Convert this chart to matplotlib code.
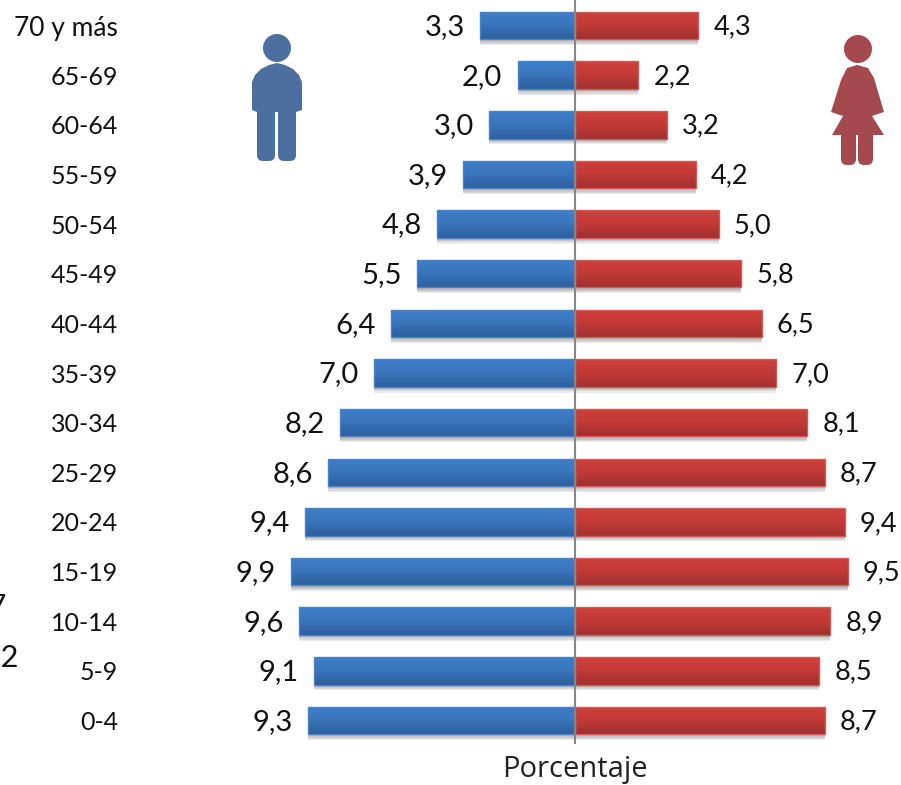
import numpy as np
import matplotlib
matplotlib.use("Agg")
import matplotlib.pyplot as plt
from matplotlib.patches import Circle, Polygon, FancyBboxPatch
from matplotlib.transforms import Affine2D
from matplotlib.colors import LinearSegmentedColormap

ages = ["0-4", "5-9", "10-14", "15-19", "20-24", "25-29", "30-34", "35-39",
        "40-44", "45-49", "50-54", "55-59", "60-64", "65-69", "70 y más"]
men = [9.3, 9.1, 9.6, 9.9, 9.4, 8.6, 8.2, 7.0, 6.4, 5.5, 4.8, 3.9, 3.0, 2.0, 3.3]
women = [8.7, 8.5, 8.9, 9.5, 9.4, 8.7, 8.1, 7.0, 6.5, 5.8, 5.0, 4.2, 3.2, 2.2, 4.3]
stray_labels = ["9,7", "9,2"]
axis_title = "Porcentaje"

W, H = 901, 785
plt.rcParams["font.family"] = ["Lato", "DejaVu Sans"]
fig = plt.figure(figsize=(W / 100, H / 100), dpi=100)
L, R, T, B = 125, 901, 0, 745
ax = fig.add_axes([L / W, 1 - B / H, (R - L) / W, (B - T) / H])
PX = 28.7
ROW = 49.64
xlim = ((L - 575) / PX, (R - 575) / PX)
ylim = ((720.5 - B) / ROW, (720.5 - T) / ROW)
y = np.arange(len(ages))
BH = 27.5 / ROW

blue = LinearSegmentedColormap.from_list("b", ["#3f7fcc", "#3a74ba", "#2f5f9e"])
red = LinearSegmentedColormap.from_list("r", ["#d0403c", "#c23a37", "#a03030"])
grad = np.linspace(0, 1, 64).reshape(-1, 1)


def draw(vals, sign, cmap, edge):
    widths = sign * np.array(vals)
    for k in range(5):
        ax.barh(y - (1 + k * 1.2) / ROW, widths, height=BH, color="#444444",
                alpha=0.10, lw=0, zorder=1)
    bars = ax.barh(y, widths, height=BH, color="none", edgecolor=edge, lw=1.0, zorder=3)
    for rect in bars:
        x0, yy, w, h = rect.get_x(), rect.get_y(), rect.get_width(), rect.get_height()
        im = ax.imshow(grad, cmap=cmap, aspect="auto", zorder=2,
                       extent=(x0, x0 + w, yy, yy + h), origin="upper")
        im.set_clip_path(rect)


draw(men, -1, blue, "#4a82c8")
draw(women, 1, red, "#d25a56")
ax.set_xlim(*xlim)
ax.set_ylim(*ylim)
ax.axvline(0, ymin=(B - 743) / (B - T), color="#868686", lw=1.5, zorder=5)

for i, (m, f) in enumerate(zip(men, women)):
    ax.annotate(f"{m:.1f}".replace(".", ","), (-m, i), xytext=(-11, -1), textcoords="offset points",
                ha="right", va="center", fontsize=21, color="#111111")
    ax.annotate(f"{f:.1f}".replace(".", ","), (f, i), xytext=(11, -1), textcoords="offset points",
                ha="left", va="center", fontsize=19.5, color="#111111")

ax.set_yticks(y, ages, fontsize=18, color="#111111")
ax.get_yticklabels()[-1].set_fontsize(19)
ax.tick_params(axis="y", length=0, pad=5)
ax.set_xticks([])
for s in ax.spines.values():
    s.set_visible(False)
ax.patch.set_alpha(0)

fig.text(575 / W, 1 - 769 / H, axis_title, ha="center", va="center", fontsize=21,
         family="Open Sans", color="#222222")
fig.text(7 / W, 1 - 606 / H, stray_labels[0], ha="right", va="center", fontsize=21, color="#111111")
fig.text(19 / W, 1 - 658 / H, stray_labels[1], ha="right", va="center", fontsize=22, color="#111111")

px = Affine2D().scale(1 / W, -1 / H).translate(0, 1) + fig.transFigure


def add(p):
    p.set_transform(px)
    p.set_clip_on(False)
    fig.add_artist(p)


def leg(x0, x1, y0, y1, color):
    add(FancyBboxPatch((x0 + 6, y0 + 6), x1 - x0 - 12, y1 - y0 - 12, boxstyle="round,pad=6",
                       fc=color, ec="none"))


cm = "#4d6f9f"
add(Circle((277, 48), 14, fc=cm, ec="none"))
add(Polygon([(252, 110), (252, 82), (255, 75), (261, 69), (269, 65), (277, 63), (285, 65), (293, 69),
             (299, 75), (302, 82), (302, 110), (296, 112), (257, 112)],
            closed=True, fc=cm, ec="none"))
leg(257, 275, 100, 161, cm)
leg(278, 296, 100, 161, cm)

cw = "#a44a4e"
add(Circle((858, 49), 14, fc=cw, ec="none"))
add(Polygon([(847, 68), (857, 65), (868, 68), (874, 78), (884, 112), (872, 116), (884, 135), (832, 135),
             (843, 116), (831, 112), (841, 80)], closed=True, fc=cw, ec="none"))
leg(841, 856, 125, 165, cw)
leg(858, 873, 125, 165, cw)

fig.savefig("out.png", dpi=100)
